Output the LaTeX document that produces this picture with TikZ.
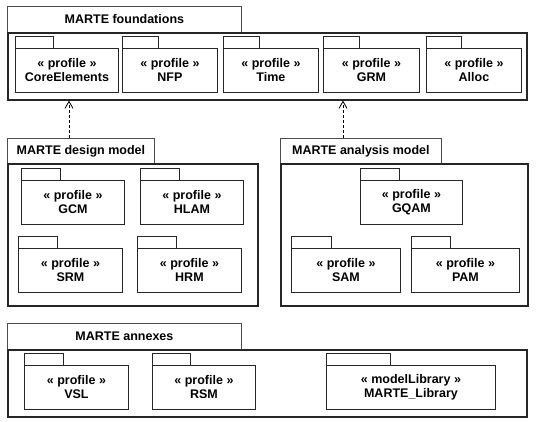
\documentclass[tikz,border=0pt]{standalone}
\usepackage{fontspec}
\setmainfont{Liberation Sans}
\usetikzlibrary{calc,arrows.meta}
\tikzset{
	pkg/.style={draw=black!85, line width=0.9pt, inner sep=0pt, minimum height=44pt, align=center, font=\fontsize{12.5}{14}\selectfont\bfseries},
	pkgtab/.style={draw=black!85, line width=0.9pt},
	bigtab/.style={draw=black!70, line width=0.8pt, inner sep=0pt, font=\fontsize{12.5}{14}\selectfont\bfseries},
	frame/.style={draw=black!85, line width=1.6pt, inner sep=0pt},
	dep/.style={densely dashed, line width=0.8pt, -{Straight Barb[length=7pt,width=8pt]}}
}
\newcommand\umlpkg[7]{
	\node[pkg, minimum width=#4pt, anchor=north west] (#1) at (#2,#3) {« #6 »\\#7};
	\draw[pkgtab] (#1.north west) rectangle ++(#5,-12);
}
\begin{document}
\begin{tikzpicture}[x=1pt, y=-1pt]
			%%%%% START %%%%%
			\useasboundingbox (0,0) rectangle (538,422);
			
			% foundations
			\node[bigtab, minimum width=234pt, minimum height=26pt, anchor=north west] (ftab) at (7,6) {MARTE foundations};
			\node[frame, minimum width=519pt, minimum height=67pt, anchor=north west] (found) at (7,32) {};
			\umlpkg{core}{15}{48}{103}{38}{profile}{CoreElements}
			\umlpkg{nfp}{122}{48}{95}{36}{profile}{NFP}
			\umlpkg{time}{223}{48}{95}{36}{profile}{Time}
			\umlpkg{grm}{323}{48}{96}{36}{profile}{GRM}
			\umlpkg{alloc}{426}{48}{95}{35}{profile}{Alloc}
			
			% design model
			\node[bigtab, minimum width=147pt, minimum height=25pt, anchor=north west] (dtab) at (7,138) {MARTE design model};
			\node[frame, minimum width=250pt, minimum height=142pt, anchor=north west] (design) at (7,163) {};
			\umlpkg{gcm}{21}{180}{103}{39}{profile}{GCM}
			\umlpkg{hlam}{140}{180}{103}{39}{profile}{HLAM}
			\umlpkg{srm}{18}{248}{104}{39}{profile}{SRM}
			\umlpkg{hrm}{137}{248}{104}{39}{profile}{HRM}
			
			% analysis model
			\node[bigtab, minimum width=161pt, minimum height=25pt, anchor=north west] (atab) at (280,138) {MARTE analysis model};
			\node[frame, minimum width=247pt, minimum height=142pt, anchor=north west] (analysis) at (280,163) {};
			\umlpkg{gqam}{360}{180}{102}{39}{profile}{GQAM}
			\umlpkg{sam}{291}{248}{109}{40}{profile}{SAM}
			\umlpkg{pam}{411}{248}{108}{39}{profile}{PAM}
			
			% annexes
			\node[bigtab, minimum width=234pt, minimum height=26pt, anchor=north west] (xtab) at (7,323) {MARTE annexes};
			\node[frame, minimum width=519pt, minimum height=67pt, anchor=north west] (annex) at (7,349) {};
			\umlpkg{vsl}{24}{365}{104}{39}{profile}{VSL}
			\umlpkg{rsm}{152}{365}{103}{38}{profile}{RSM}
			\umlpkg{lib}{326}{365}{169}{64}{modelLibrary}{MARTE\_Library}
			
			% dependencies
			\coordinate (d1) at ($(dtab.north west)+(62,0)$);
			\coordinate (d2) at ($(atab.north west)+(63,0)$);
			\draw[dep] (d1) -- (d1 |- found.south);
			\draw[dep] (d2) -- (d2 |- found.south);
			
			%%%%% END %%%%%
\end{tikzpicture}
\end{document}
